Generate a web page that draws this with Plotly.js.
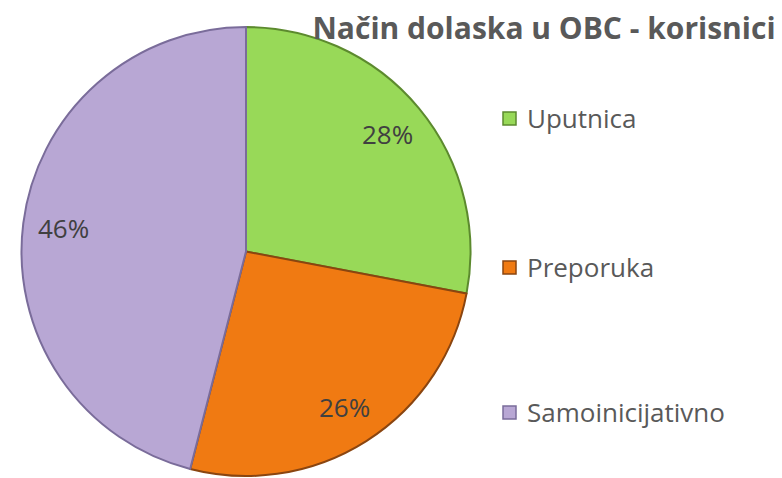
<!DOCTYPE html>
<html><head><meta charset="utf-8">
<script src="https://cdn.plot.ly/plotly-3.0.1.min.js"></script>
<style>html,body{margin:0;padding:0;background:#fff}#c{width:782px;height:478px}</style>
</head><body><div id="c"></div>
<script>
const chartTitle = "Način dolaska u OBC - korisnici";
const labels = ["Uputnica", "Preporuka", "Samoinicijativno"];
const values = [28, 26, 46];
const colors = ["#98D958", "#F07A12", "#B8A7D4"];
const edgeColors = ["#5C8A2E", "#8A4510", "#7A6C9A"];

// pie geometry in pixels
const W = 782, H = 478;
const px0 = 19, px1 = 473, py0 = 27, py1 = 476;
const cx = (px0 + px1) / 2, cy = (py0 + py1) / 2, R = Math.min(px1 - px0, py1 - py0) / 2;

const total = values.reduce((a, b) => a + b, 0);
let cum = 0;
const pctAnn = values.map((v, i) => {
  const mid = (cum + v / 2) / total * 2 * Math.PI; cum += v;
  const r = 0.82 * R;
  const x = cx + r * Math.sin(mid), y = cy - r * Math.cos(mid);
  return {text: Math.round(v / total * 100) + "%", xref: "paper", yref: "paper",
    x: x / W, y: 1 - y / H, xanchor: "center", yanchor: "middle", showarrow: false,
    font: {family: "Open Sans, sans-serif", size: 26, color: "#404040"}};
});

const legendY = [118, 267, 412];
const legAnn = labels.map((l, i) => ({
  text: l, xref: "paper", yref: "paper", x: 525 / W, y: 1 - legendY[i] / H,
  xanchor: "left", yanchor: "middle", showarrow: false,
  font: {family: "Open Sans, sans-serif", size: 26, color: "#595959"}
}));
const shapes = labels.map((l, i) => ({
  type: "rect", xref: "paper", yref: "paper",
  x0: 503 / W, x1: 516 / W, y0: 1 - (legendY[i] + 7) / H, y1: 1 - (legendY[i] - 6) / H,
  fillcolor: colors[i], line: {color: edgeColors[i], width: 1.5}
}));

Plotly.newPlot("c", [{
  type: "pie", labels: labels, values: values, sort: false, direction: "clockwise", rotation: 0,
  marker: {colors: colors, line: {color: edgeColors, width: 2}},
  textinfo: "none",
  domain: {x: [px0 / W, px1 / W], y: [1 - py1 / H, 1 - py0 / H]},
  hoverinfo: "none", showlegend: false
}], {
  width: W, height: H, margin: {l: 0, r: 0, t: 0, b: 0},
  paper_bgcolor: "#fff", showlegend: false,
  title: {text: "<b>" + chartTitle + "</b>", x: 544 / W, xanchor: "center", y: 1 - 28 / H, yanchor: "middle",
    font: {family: "Open Sans, sans-serif", size: 30, color: "#595959"}},
  annotations: pctAnn.concat(legAnn), shapes: shapes
}, {displayModeBar: false, staticPlot: true});
</script></body></html>
